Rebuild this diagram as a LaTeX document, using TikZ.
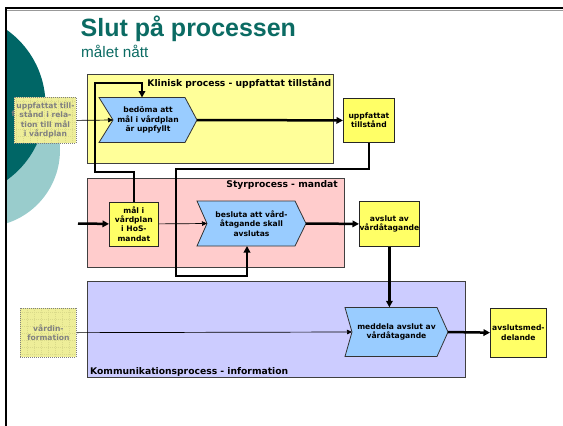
\documentclass[tikz,border=0pt]{standalone}
\usepackage{fontspec}
\setmainfont{DejaVu Sans}
\newfontfamily\headfont{Liberation Sans}
\usetikzlibrary{arrows.meta,shadows}

\definecolor{discdark}{HTML}{006666}
\definecolor{disclight}{HTML}{99CCCC}
\definecolor{titlecol}{HTML}{0B6B63}
\definecolor{klinfill}{HTML}{FFFF99}
\definecolor{styrfill}{HTML}{FFCCCC}
\definecolor{kommfill}{HTML}{CCCCFF}
\definecolor{actfill}{HTML}{99CCFF}
\definecolor{objfill}{HTML}{FFFF66}
\definecolor{ghostfill}{HTML}{EEEE99}
\definecolor{ghostline}{HTML}{DADA8A}
\definecolor{ghosttext}{HTML}{808080}

\tikzset{
  region/.style={draw=black!75, line width=0.8pt, inner sep=0pt, anchor=north west},
  regtitle/.style={font=\bfseries\fontsize{9.2}{11}\selectfont, inner sep=0pt},
  boxfont/.style={font=\bfseries\fontsize{7.6}{9.2}\selectfont, align=center},
  objbox/.style={boxfont, draw=black!85, line width=0.8pt, fill=objfill, inner sep=0pt,
    anchor=north west,
    drop shadow={shadow xshift=0.9pt, shadow yshift=-0.9pt, fill=black!35, opacity=1}},
  ghostbox/.style={boxfont, text=ghosttext, draw=ghosttext, dash pattern=on 1pt off 1pt,
    line width=0.8pt, fill=ghostfill, inner sep=0pt, anchor=north west,
    path picture={\draw[ghostline, line width=0.4pt]
      (path picture bounding box.south west) grid[step=7pt]
      (path picture bounding box.north east);}},
  actshape/.style={draw=black!80, line width=0.8pt, fill=actfill},
  acttext/.style={boxfont, inner sep=0pt},
  flowthick/.style={line width=2.5pt, -{Triangle[length=6.5pt,width=6.5pt]}},
  flowthin/.style={line width=0.7pt, -{Triangle[length=5pt,width=4.5pt]}},
}

% chevron-shaped activity: name, x left, x right, y top, y bottom, notch, point, text
\newcommand\actchevron[8]{%
  \draw[actshape] (#2,#4) -- ({#3-#7},#4) -- (#3,{(#4+#5)/2}) -- ({#3-#7},#5)
    -- (#2,#5) -- ({#2+#6},{(#4+#5)/2}) -- cycle;
  \coordinate (#1-in) at ({#2+#6},{(#4+#5)/2});
  \coordinate (#1-out) at (#3,{(#4+#5)/2});
  \node[acttext, minimum width={#3-#2}, minimum height={#5-#4}] (#1)
    at ({(#2+#3)/2},{(#4+#5)/2}) {#8};
}

\begin{document}
\begin{tikzpicture}[x=1pt,y=-1pt]
\useasboundingbox (0,0) rectangle (563,426);

% decorative discs at the left edge
\begin{scope}
  \clip (7,9) rectangle (563,426);
  \fill[disclight] (-17,150) circle[radius=77pt];
  \fill[discdark] (-46.7,105) circle[radius=92.2pt];
\end{scope}

% slide frame
\draw[line width=1pt, black!40] (7,10.2) -- (563,10.2);
\draw[line width=2pt] (5,8) -- (563,8);
\draw[line width=2.2pt] (6,7) -- (6,426);

% heading
\node[anchor=base west, inner sep=0pt, text=titlecol,
  font=\headfont\bfseries\fontsize{25}{30}\selectfont] (title) at (80.5,36.5) {Slut på processen};
\node[anchor=base west, inner sep=0pt, text=titlecol,
  font=\headfont\fontsize{15.3}{18}\selectfont] (subtitle) at (81,57.5) {målet nått};

% process lanes
\node[region, fill=klinfill, minimum width=246pt, minimum height=89pt] (klin) at (87,74) {};
\node[region, fill=styrfill, minimum width=257pt, minimum height=89pt] (styr) at (87,178) {};
\node[region, fill=kommfill, minimum width=378pt, minimum height=96pt] (komm) at (87,281) {};
\node[regtitle, anchor=base east] (klinT) at (331.5,86) {Klinisk process - uppfattat tillstånd};
\node[regtitle, anchor=base east] (styrT) at (338,187.5) {Styrprocess - mandat};
\node[regtitle, anchor=base west] (kommT) at (90,374) {Kommunikationsprocess - information};

% greyed-out inputs
\node[anchor=base west, inner sep=0pt, text=ghosttext,
  font=\bfseries\fontsize{7.6}{9}\selectfont] (fpeek) at (11.5,116) {f};
\node[ghostbox, minimum width=62pt, minimum height=46pt] (ginA) at (14,97)
  {uppfattat till-\\stånd i rela-\\tion till mål\\i vårdplan};
\node[ghostbox, minimum width=56pt, minimum height=49.5pt] (ginB) at (20,307.5)
  {vårdin-\\formation};

% activities
\actchevron{assess}{99}{197}{97.5}{142.5}{14}{12}{bedöma att\\mål i vårdplan\\är uppfyllt}
\actchevron{decide}{197}{306}{201}{246}{10}{11}{besluta att vård-\\åtagande skall\\avslutas}
\actchevron{inform}{345}{448}{307.5}{356.5}{7}{11}{meddela avslut av\\vårdåtagande}

% information objects
\node[objbox, minimum width=51pt, minimum height=44pt] (state) at (343,98) {uppfattat\\tillstånd};
\node[objbox, minimum width=49pt, minimum height=44pt] (goal) at (109,201.5) {mål i\\vårdplan\\i HoS-\\mandat};
\node[objbox, minimum width=60pt, minimum height=45pt] (close) at (359,201) {avslut av\\vårdåtagande};
\node[objbox, minimum width=56pt, minimum height=48.5pt] (notice) at (490,308) {avslutsmed-\\delande};

% connectors
\coordinate (goalin) at (78,223.5);
\coordinate (assess-top) at (142,97.5);
\coordinate (decide-bot) at (247,246);

\draw[flowthin] (ginA.east) -- (assess-in);
\draw[flowthick] (assess-out) -- (state.west);
\draw[flowthick] (state.south) |- (176,169) -- (176,276) -| (decide-bot);
\draw[flowthick] (goal.north) |- (95,172) -- (95,83) -| (assess-top);
\draw[flowthick] (goalin) -- (goal.west);
\draw[flowthin] (goal.east) -- (decide-in);
\draw[flowthick] (decide-out) -- (close.west);
\draw[flowthick] (close.south) -- (close.south |- inform.north);
\draw[flowthin] (ginB.east) -- (inform-in);
\draw[flowthick] (inform-out) -- (notice.west);
\end{tikzpicture}
\end{document}
